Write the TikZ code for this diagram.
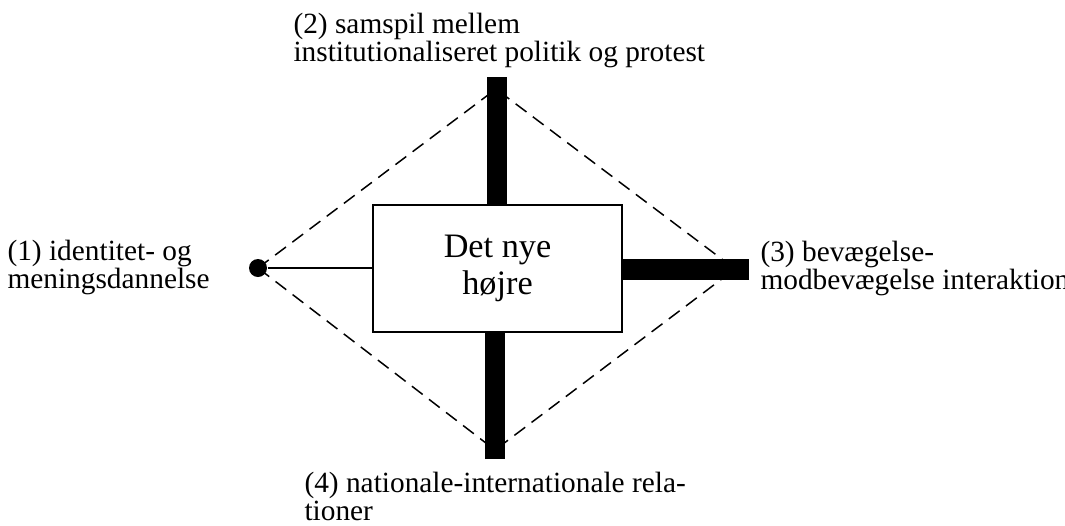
\documentclass[tikz,border=0pt]{standalone}
\usepackage{fontspec}
\setmainfont{Liberation Serif}
\newcommand\lblfont{\fontsize{16.7}{16.2}\selectfont\lineskiplimit=-5pt\relax}
\begin{document}
\begin{tikzpicture}[x=0.02cm, y=-0.02cm, line width=0.6pt]
  \useasboundingbox (0,0) rectangle (1065,525);
  \tikzset{lbl/.style={anchor=west, align=left, inner sep=0pt, font=\lblfont},
    bar/.style={line width=0.41cm},
    rim/.style={dash pattern=on 0.27cm off 0.16cm, line width=0.85pt}}
  \coordinate (L) at (258,268); \coordinate (T) at (496,89); \coordinate (R) at (735,269); \coordinate (B) at (495,450);
  % gestrichelte Raute
  \draw[rim] (L) -- (T) -- (R) -- (B) -- cycle;
  % Kasten und Punkt
  \node[draw, line width=1.1pt, fill=white, minimum width=4.98cm, minimum height=2.54cm, align=center, font=\fontsize{19.5}{21}\selectfont] (core) at (497.5,268.5) {Det nye\\højre};
  \node[circle, fill, inner sep=0pt, minimum size=0.36cm] (dot) at (L) {};
  \draw[line width=1pt] (dot) -- (dot -| core.west);
  % Balken
  \coordinate (Tend) at (497,77); \coordinate (Bend) at (495,459); \coordinate (Rend) at (749,269.5);
  \draw[bar] (Tend) -- (Tend |- core.north);
  \draw[bar] (Bend) -- (Bend |- core.south);
  \draw[bar] (Rend) -- (Rend -| core.east);
  % Beschriftungen
  \node[lbl] (lab1) at (7,267.5) {(1) identitet- og\\meningsdannelse};
  \node[lbl] (lab2) at (293,40.5) {(2) samspil mellem\\institutionaliseret politik og protest};
  \node[lbl] (lab3) at (760,268.5) {(3) bevægelse-\\modbevægelse interaktion};
  \node[lbl] (lab4) at (304,496.5) {(4) nationale-internationale rela-\\tioner};
\end{tikzpicture}
\end{document}
